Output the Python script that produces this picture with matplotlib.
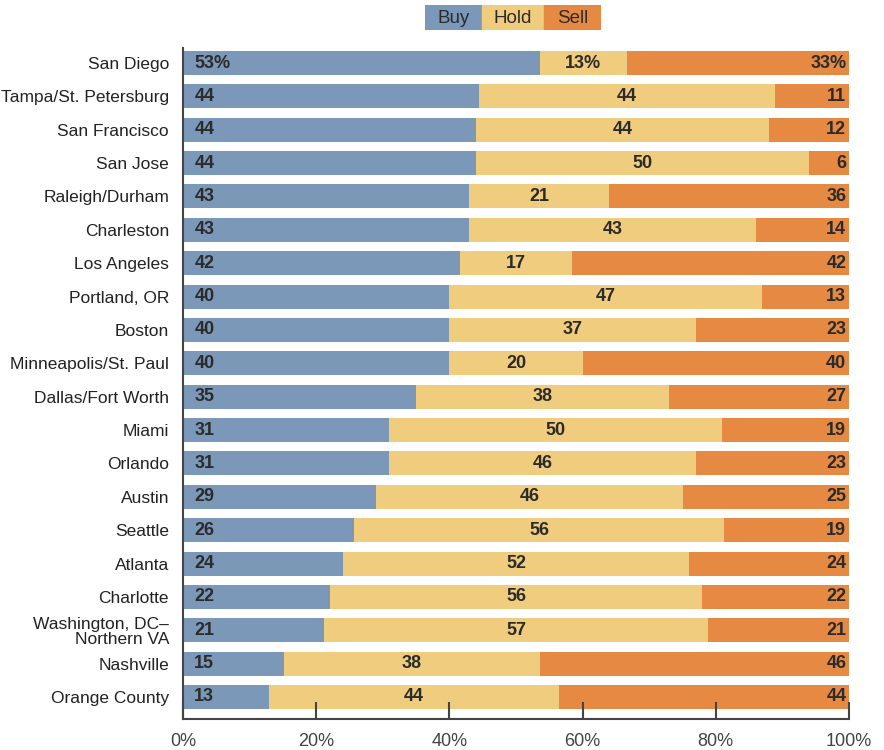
import numpy as np
import matplotlib
matplotlib.use('Agg')
import matplotlib.pyplot as plt
from matplotlib.patches import Rectangle

plt.rcParams['font.family'] = ['Liberation Sans', 'DejaVu Sans']

# Share of respondents recommending buy / hold / sell, by market
markets = [
    'San Diego', 'Tampa/St. Petersburg', 'San Francisco', 'San Jose',
    'Raleigh/Durham', 'Charleston', 'Los Angeles', 'Portland, OR', 'Boston',
    'Minneapolis/St. Paul', 'Dallas/Fort Worth', 'Miami', 'Orlando', 'Austin',
    'Seattle', 'Atlanta', 'Charlotte', 'Washington, DC\u2013\nNorthern VA',
    'Nashville', 'Orange County',
]
buy = [53, 44, 44, 44, 43, 43, 42, 40, 40, 40, 35, 31, 31, 29, 26, 24, 22, 21, 15, 13]
hold = [13, 44, 44, 50, 21, 43, 17, 47, 37, 20, 38, 50, 46, 46, 56, 52, 56, 57, 38, 44]
sell = [33, 11, 12, 6, 36, 14, 42, 13, 23, 40, 27, 19, 23, 25, 19, 24, 22, 21, 46, 44]

series = ['Buy', 'Hold', 'Sell']
colors = ['#7b98b8', '#f0cd7e', '#e68a43']
text_color = '#2b2b2b'

vals = np.array([buy, hold, sell], dtype=float)
# rows are rounded, so scale each market to a 100% total
shares = vals / vals.sum(axis=0) * 100

fig = plt.figure(figsize=(8.84, 7.5), dpi=100)
ax = fig.add_axes([183 / 884, 1 - 719 / 750, 666 / 884, 671 / 750])

y = np.arange(len(markets))
left = np.zeros(len(markets))
lab_kw = dict(va='center', fontsize=13, fontweight='bold', color=text_color)
for i, (name, col) in enumerate(zip(series, colors)):
    ax.barh(y, shares[i], left=left, height=0.72, color=col, label=name)
    for j in range(len(markets)):
        txt = f'{int(vals[i, j])}' + ('%' if j == 0 else '')
        if i == 0:
            ax.text(left[j] + 1.7, y[j], txt, ha='left', **lab_kw)
        elif i == 1:
            ax.text(left[j] + shares[i, j] / 2, y[j], txt, ha='center', **lab_kw)
        else:
            ax.text(99.6, y[j], txt, ha='right', **lab_kw)
    left += shares[i]

ax.set_xlim(0, 100)
ax.set_ylim(19.66, -0.45)
ax.set_yticks(y)
ax.set_yticklabels(markets, fontsize=12.5, color='#222222', linespacing=1.05)
ax.set_xticks([0, 20, 40, 60, 80, 100])
ax.set_xticklabels([f'{v}%' for v in [0, 20, 40, 60, 80, 100]], fontsize=13, color='#444444')
ax.tick_params(axis='y', length=0, pad=10)
ax.tick_params(axis='x', direction='in', length=12, width=1.5, color='#444444', pad=10)
for s in ['top', 'right']:
    ax.spines[s].set_visible(False)
for s in ['left', 'bottom']:
    ax.spines[s].set_linewidth(1.5)
    ax.spines[s].set_color('#444444')

# legend as adjacent coloured boxes
leg = fig.add_axes([425 / 884, 1 - 30 / 750, 176 / 884, 25 / 750])
leg.set_xlim(425, 601)
leg.set_ylim(0, 1)
leg.axis('off')
edges = [425, 482, 544, 601]
for k, (name, col) in enumerate(zip(series, colors)):
    leg.add_patch(Rectangle((edges[k], 0), edges[k + 1] - edges[k], 1, color=col))
    leg.text((edges[k] + edges[k + 1]) / 2, 0.47, name, ha='center', va='center',
             fontsize=13.5, color=text_color)

fig.savefig('out.png', dpi=100)
